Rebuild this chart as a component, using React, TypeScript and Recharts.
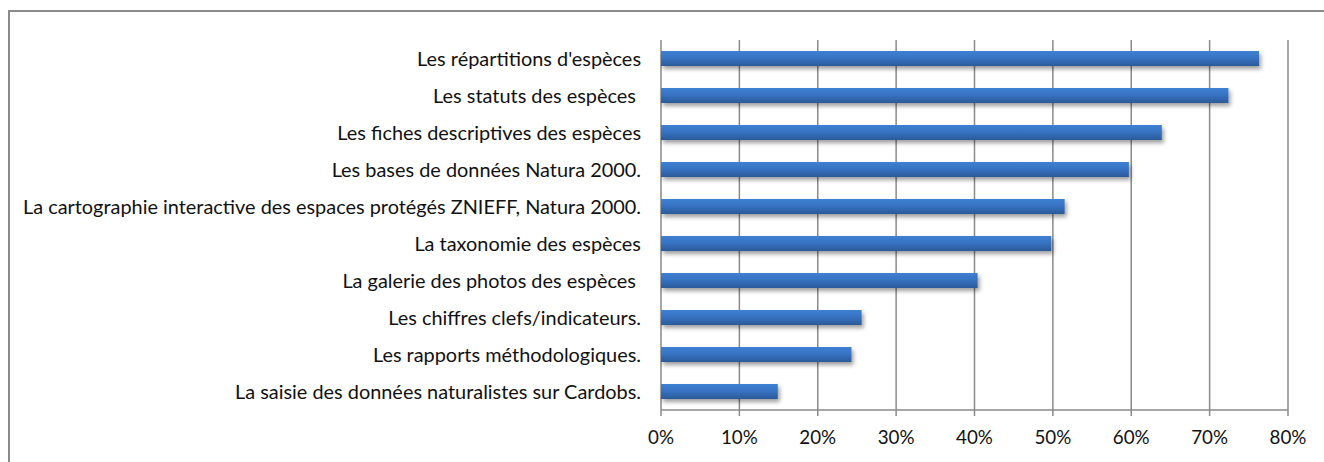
import React from 'react';
import { BarChart, Bar, XAxis, YAxis, CartesianGrid } from 'recharts';

const categories: string[] = [
  "Les répartitions d'espèces",
  'Les statuts des espèces ',
  'Les fiches descriptives des espèces',
  'Les bases de données Natura 2000.',
  'La cartographie interactive des espaces protégés ZNIEFF, Natura 2000.',
  'La taxonomie des espèces',
  'La galerie des photos des espèces ',
  'Les chiffres clefs/indicateurs.',
  'Les rapports méthodologiques.',
  'La saisie des données naturalistes sur Cardobs.',
];

const values: number[] = [76.3, 72.4, 63.9, 59.7, 51.5, 49.8, 40.4, 25.6, 24.3, 14.9];

const xTicks: number[] = [0, 10, 20, 30, 40, 50, 60, 70, 80];
const bandTicks: number[] = [0, 1, 2, 3, 4, 5, 6, 7, 8, 9, 10];

const data = categories.map((name, i) => ({ name, value: values[i] }));

const FONT = 'Lato, "Open Sans", sans-serif';
const Y_FONT_SIZE = 19.9;
const X_FONT_SIZE = 18.8;
const GRID = '#8a8a8a';

const YTick = (props: any) => {
  const { x, y, payload } = props;
  return (
    <text
      x={x}
      y={y}
      dy="0.36em"
      textAnchor="end"
      fill="#111"
      style={{ fontFamily: FONT, fontSize: Y_FONT_SIZE, whiteSpace: 'pre' }}
    >
      {payload.value}
    </text>
  );
};

const XTick = (props: any) => {
  const { x, y, payload } = props;
  return (
    <text
      x={x}
      y={y}
      dy="0.71em"
      textAnchor="middle"
      fill="#111"
      style={{ fontFamily: FONT, fontSize: X_FONT_SIZE }}
    >
      {`${payload.value}%`}
    </text>
  );
};

const EmptyTick = () => <g />;

export default function App() {
  return (
    <div
      style={{
        position: 'fixed',
        left: 0,
        top: 0,
        width: 1324,
        height: 462,
        background: '#fff',
        overflow: 'hidden',
      }}
    >
      <div
        style={{
          position: 'absolute',
          left: 8,
          top: 10,
          width: 1340,
          height: 480,
          borderLeft: `2.5px solid ${GRID}`,
          borderTop: `2px solid ${GRID}`,
          boxSizing: 'border-box',
        }}
      />
      <div style={{ position: 'absolute', left: 0, top: 0 }}>
        <BarChart
          width={1324}
          height={462}
          data={data}
          layout="vertical"
          margin={{ top: 40, right: 36, bottom: 0, left: 0 }}
          barSize={15}
        >
          <defs>
            <linearGradient id="barGrad" x1="0" y1="0" x2="0" y2="1">
              <stop offset="0%" stopColor="#3f80d1" />
              <stop offset="45%" stopColor="#3773c3" />
              <stop offset="100%" stopColor="#2b5a99" />
            </linearGradient>
            <filter id="barShadow" x="-5%" y="-50%" width="115%" height="250%">
              <feDropShadow dx="2" dy="3" stdDeviation="2.2" floodColor="#000" floodOpacity="0.38" />
            </filter>
          </defs>
          <CartesianGrid horizontal={false} stroke={GRID} strokeWidth={1.5} />
          <XAxis
            type="number"
            domain={[0, 80]}
            ticks={xTicks}
            interval={0}
            height={52}
            stroke={GRID}
            tickSize={6}
            tickMargin={15}
            tick={<XTick />}
            axisLine={{ stroke: GRID, strokeWidth: 1.5 }}
            tickLine={{ stroke: GRID, strokeWidth: 1.5 }}
          />
          <YAxis
            yAxisId="band"
            type="number"
            domain={[0, 10]}
            ticks={bandTicks}
            interval={0}
            width={0}
            tickSize={5}
            tick={<EmptyTick />}
            axisLine={{ stroke: GRID, strokeWidth: 1.5 }}
            tickLine={{ stroke: GRID, strokeWidth: 1.5 }}
          />
          <YAxis
            type="category"
            dataKey="name"
            width={661}
            interval={0}
            tickSize={5}
            tickMargin={15}
            axisLine={false}
            tickLine={false}
            tick={<YTick />}
          />
          <Bar
            dataKey="value"
            fill="url(#barGrad)"
            filter="url(#barShadow)"
            isAnimationActive={false}
          />
        </BarChart>
      </div>
    </div>
  );
}
